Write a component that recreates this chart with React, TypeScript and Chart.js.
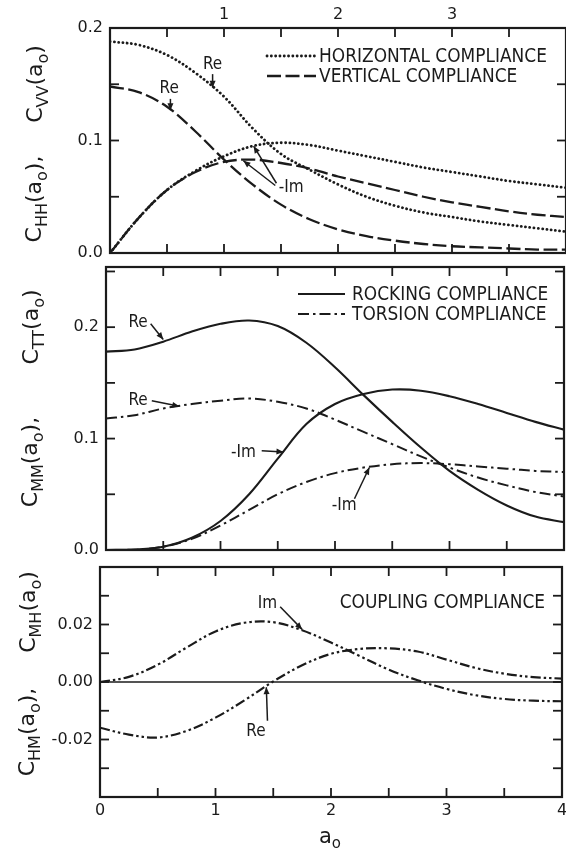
import React, { useEffect, useRef } from "react";
import { Chart, registerables } from "chart.js";

Chart.register(...registerables);

const INK = "#1b1b1b";
const FONT = "'DejaVu Sans', 'Liberation Sans', sans-serif";

// ---------- data ----------
const a0 = [0, 0.25, 0.5, 0.75, 1, 1.25, 1.5, 1.75, 2, 2.25, 2.5, 2.75, 3, 3.25, 3.5, 3.75, 4];

// top panel: horizontal (dotted) & vertical (dashed) compliance
const horizRe = [0.188, 0.185, 0.176, 0.160, 0.139, 0.111, 0.088, 0.074, 0.061, 0.050, 0.042, 0.036, 0.032, 0.028, 0.025, 0.022, 0.019];
const horizNegIm = [0, 0.031, 0.056, 0.073, 0.086, 0.095, 0.098, 0.096, 0.091, 0.086, 0.081, 0.076, 0.072, 0.068, 0.064, 0.061, 0.058];
const vertRe = [0.148, 0.143, 0.130, 0.108, 0.083, 0.061, 0.043, 0.030, 0.021, 0.015, 0.011, 0.008, 0.006, 0.005, 0.004, 0.003, 0.003];
const vertNegIm = [0, 0.031, 0.056, 0.072, 0.081, 0.083, 0.080, 0.075, 0.068, 0.062, 0.056, 0.050, 0.045, 0.041, 0.037, 0.034, 0.032];

// middle panel: rocking (solid) & torsion (dash-dot) compliance
const rockRe = [0.178, 0.180, 0.187, 0.196, 0.203, 0.206, 0.201, 0.186, 0.164, 0.139, 0.115, 0.092, 0.071, 0.054, 0.040, 0.030, 0.025];
const rockNegIm = [0, 0.0005, 0.003, 0.011, 0.026, 0.050, 0.082, 0.113, 0.131, 0.140, 0.144, 0.143, 0.138, 0.131, 0.123, 0.115, 0.108];
const torsRe = [0.118, 0.121, 0.127, 0.131, 0.134, 0.136, 0.133, 0.127, 0.117, 0.106, 0.095, 0.084, 0.074, 0.065, 0.058, 0.052, 0.048];
const torsNegIm = [0, 0.0003, 0.003, 0.010, 0.022, 0.036, 0.050, 0.061, 0.069, 0.074, 0.077, 0.078, 0.077, 0.075, 0.073, 0.071, 0.070];

// bottom panel: coupling compliance
const coupIm = [0, 0.0018, 0.006, 0.012, 0.0176, 0.0206, 0.0208, 0.0180, 0.0137, 0.0090, 0.0043, 0.0006, -0.0024, -0.0046, -0.0059, -0.0065, -0.0067];
const coupRe = [-0.0159, -0.0183, -0.0193, -0.0170, -0.0124, -0.0064, 0.0002, 0.0058, 0.0098, 0.0115, 0.0117, 0.0106, 0.0078, 0.0049, 0.0029, 0.0017, 0.0012];

// tick labels
const bottomTickLabels = ["0", "1", "2", "3", "4"];
const topTickLabels = ["1", "2", "3"];
const yLabelsTop = [0, 0.1, 0.2];
const yLabelsMid = [0, 0.1, 0.2];
const yLabelsBot = [-0.02, 0, 0.02];

// ---------- styles ----------
type LineStyle = { dash: number[]; width: number; cap: CanvasLineCap };
const DOTTED: LineStyle = { dash: [0.1, 4.2], width: 2.8, cap: "round" };
const DASHED: LineStyle = { dash: [14, 4.5], width: 2.3, cap: "butt" };
const SOLID: LineStyle = { dash: [], width: 2.1, cap: "butt" };
const DASHDOT: LineStyle = { dash: [11, 4, 2.5, 4], width: 2.0, cap: "butt" };
const DASHDOTDOT: LineStyle = { dash: [10, 3, 2.5, 3, 2.5, 3], width: 2.2, cap: "butt" };

type Note = { text: string; tx: number; ty: number; align?: CanvasTextAlign; arrows: number[][] };
type LegendRow = { text: string; style: LineStyle; y: number };
type Panel = {
  top: number;
  height: number;
  padTop: number;
  padBottom: number;
  left: number;
  padRight: number;
  yMin: number;
  yMax: number;
  yTickStep: number;
  yLabelStep: number;
  yLabels: number[];
  yDigits: number;
  series: { values: number[]; style: LineStyle }[];
  topLabels: boolean;
  bottomLabels: boolean;
  xAxisHeight: number;
  titles: { s: string; cx: number; cy: number }[];
  legend: { x0: number; x1: number; tx: number; rows: LegendRow[] } | null;
  caption: { text: string; rx: number; y: number } | null;
  notes: Note[];
  zeroLine: boolean;
  xTitle: boolean;
};

const PANELS: Panel[] = [
  {
    top: 0, height: 262, padTop: 0, padBottom: 9, left: 110, padRight: 0,
    yMin: 0, yMax: 0.2, yTickStep: 0.05, yLabelStep: 0.1, yLabels: yLabelsTop, yDigits: 1,
    series: [
      { values: vertRe, style: DASHED },
      { values: vertNegIm, style: DASHED },
      { values: horizRe, style: DOTTED },
      { values: horizNegIm, style: DOTTED },
    ],
    topLabels: true, bottomLabels: false, xAxisHeight: 0,
    titles: [
      { s: "C_{HH}(a_{o}),", cx: 33, cy: 199 },
      { s: "C_{VV}(a_{o})", cx: 34, cy: 84 },
    ],
    legend: {
      x0: 267, x1: 316, tx: 319,
      rows: [
        { text: "HORIZONTAL COMPLIANCE", style: DOTTED, y: 57 },
        { text: "VERTICAL COMPLIANCE", style: DASHED, y: 77 },
      ],
    },
    caption: null,
    notes: [
      { text: "Re", tx: 0.9, ty: 0.168, arrows: [[0.9, 0.159, 0.9, 0.147]] },
      { text: "Re", tx: 0.52, ty: 0.146, arrows: [[0.53, 0.137, 0.53, 0.127]] },
      { text: "-Im", tx: 1.48, ty: 0.058, align: "left", arrows: [[1.46, 0.062, 1.26, 0.095], [1.45, 0.060, 1.17, 0.082]] },
    ],
    zeroLine: false, xTitle: false,
  },
  {
    top: 262, height: 296, padTop: 5, padBottom: 8, left: 106, padRight: 2,
    yMin: 0, yMax: 0.254, yTickStep: 0.05, yLabelStep: 0.1, yLabels: yLabelsMid, yDigits: 1,
    series: [
      { values: rockRe, style: SOLID },
      { values: rockNegIm, style: SOLID },
      { values: torsRe, style: DASHDOT },
      { values: torsNegIm, style: DASHDOT },
    ],
    topLabels: false, bottomLabels: false, xAxisHeight: 0,
    titles: [
      { s: "C_{MM}(a_{o}),", cx: 29, cy: 200 },
      { s: "C_{TT}(a_{o})", cx: 30, cy: 65 },
    ],
    legend: {
      x0: 298, x1: 345, tx: 352,
      rows: [
        { text: "ROCKING COMPLIANCE", style: SOLID, y: 33 },
        { text: "TORSION COMPLIANCE", style: DASHDOT, y: 53 },
      ],
    },
    caption: null,
    notes: [
      { text: "Re", tx: 0.28, ty: 0.2045, arrows: [[0.39, 0.203, 0.5, 0.189]] },
      { text: "Re", tx: 0.28, ty: 0.1345, arrows: [[0.4, 0.134, 0.64, 0.129]] },
      { text: "-Im", tx: 1.2, ty: 0.088, arrows: [[1.36, 0.089, 1.55, 0.088]] },
      { text: "-Im", tx: 2.08, ty: 0.040, arrows: [[2.17, 0.046, 2.3, 0.074]] },
    ],
    zeroLine: false, xTitle: false,
  },
  {
    top: 558, height: 290, padTop: 9, padBottom: 0, left: 100, padRight: 4,
    yMin: -0.04, yMax: 0.04, yTickStep: 0.01, yLabelStep: 0.02, yLabels: yLabelsBot, yDigits: 2,
    series: [
      { values: coupIm, style: DASHDOTDOT },
      { values: coupRe, style: DASHDOTDOT },
    ],
    topLabels: false, bottomLabels: true, xAxisHeight: 51,
    titles: [
      { s: "C_{HM}(a_{o}),", cx: 26, cy: 174 },
      { s: "C_{MH}(a_{o})", cx: 27, cy: 54 },
    ],
    legend: null,
    caption: { text: "COUPLING COMPLIANCE", rx: 545, y: 45 },
    notes: [
      { text: "Im", tx: 1.45, ty: 0.0274, arrows: [[1.56, 0.0262, 1.75, 0.0183]] },
      { text: "Re", tx: 1.35, ty: -0.0172, arrows: [[1.45, -0.0135, 1.44, -0.0018]] },
    ],
    zeroLine: true, xTitle: true,
  },
];

// ---------- drawing helpers ----------
const TEXT_SCALE = 0.85;

function parseRich(s: string) {
  const out: { t: string; sub: boolean }[] = [];
  const re = /_\{([^}]*)\}/g;
  let last = 0;
  let m: RegExpExecArray | null;
  while ((m = re.exec(s))) {
    if (m.index > last) out.push({ t: s.slice(last, m.index), sub: false });
    out.push({ t: m[1], sub: true });
    last = re.lastIndex;
  }
  if (last < s.length) out.push({ t: s.slice(last), sub: false });
  return out;
}

function drawRich(ctx: CanvasRenderingContext2D, s: string, cx: number, cy: number, size: number, rotate: boolean) {
  const segs = parseRich(s);
  const big = `${size}px ${FONT}`;
  const small = `${Math.round(size * 0.72)}px ${FONT}`;
  let total = 0;
  const widths = segs.map((sg) => {
    ctx.font = sg.sub ? small : big;
    const w = ctx.measureText(sg.t).width;
    total += w;
    return w;
  });
  ctx.save();
  ctx.translate(cx, cy);
  if (rotate) ctx.rotate(-Math.PI / 2);
  ctx.textAlign = "left";
  ctx.textBaseline = "alphabetic";
  let x = -total / 2;
  const base = size * 0.36;
  segs.forEach((sg, i) => {
    ctx.font = sg.sub ? small : big;
    ctx.fillText(sg.t, x, sg.sub ? base + size * 0.26 : base);
    x += widths[i];
  });
  ctx.restore();
}

function drawCondensed(ctx: CanvasRenderingContext2D, text: string, x: number, y: number, size: number, align: CanvasTextAlign) {
  ctx.save();
  ctx.font = `${size}px ${FONT}`;
  const w = ctx.measureText(text).width * TEXT_SCALE;
  let left = x;
  if (align === "center") left = x - w / 2;
  else if (align === "right") left = x - w;
  ctx.translate(left, y);
  ctx.scale(TEXT_SCALE, 1);
  ctx.textAlign = "left";
  ctx.textBaseline = "middle";
  ctx.fillText(text, 0, 0);
  ctx.restore();
}

function seg(ctx: CanvasRenderingContext2D, x0: number, y0: number, x1: number, y1: number) {
  ctx.beginPath();
  ctx.moveTo(x0, y0);
  ctx.lineTo(x1, y1);
  ctx.stroke();
}

function arrow(ctx: CanvasRenderingContext2D, x0: number, y0: number, x1: number, y1: number) {
  ctx.lineWidth = 1.5;
  seg(ctx, x0, y0, x1, y1);
  const ang = Math.atan2(y1 - y0, x1 - x0);
  const L = 7, W = 3;
  ctx.beginPath();
  ctx.moveTo(x1, y1);
  ctx.lineTo(x1 - L * Math.cos(ang) + W * Math.sin(ang), y1 - L * Math.sin(ang) - W * Math.cos(ang));
  ctx.lineTo(x1 - L * Math.cos(ang) - W * Math.sin(ang), y1 - L * Math.sin(ang) + W * Math.cos(ang));
  ctx.closePath();
  ctx.fill();
}

function decorPlugin(p: Panel, idx: number) {
  return {
    id: "decor" + idx,
    afterDatasetsDraw(chart: any) {
      const ctx: CanvasRenderingContext2D = chart.ctx;
      const { left, right, top, bottom } = chart.chartArea;
      const xs = chart.scales.x;
      const ys = chart.scales.y;
      ctx.save();
      ctx.strokeStyle = INK;
      ctx.fillStyle = INK;
      ctx.setLineDash([]);
      ctx.lineCap = "butt";

      if (p.zeroLine) {
        ctx.lineWidth = 1.7;
        const y0 = ys.getPixelForValue(0);
        seg(ctx, left, y0, right, y0);
      }

      ctx.lineWidth = 2.2;
      ctx.strokeRect(left, top, right - left, bottom - top);

      const TL = 9;
      ctx.lineWidth = 1.8;
      for (let k = 1; k < 8; k++) {
        const px = xs.getPixelForValue(k * 0.5);
        seg(ctx, px, top, px, top + TL);
        seg(ctx, px, bottom, px, bottom - TL);
      }
      const kMin = Math.ceil(p.yMin / p.yTickStep - 1e-6);
      const kMax = Math.floor(p.yMax / p.yTickStep + 1e-6);
      for (let k = kMin; k <= kMax; k++) {
        const py = ys.getPixelForValue(k * p.yTickStep);
        if (py < top + 3 || py > bottom - 3) continue;
        seg(ctx, left, py, left + TL, py);
        seg(ctx, right, py, right - TL, py);
      }

      if (p.legend) {
        const lg = p.legend;
        lg.rows.forEach((r) => {
          ctx.save();
          ctx.setLineDash(r.style.dash);
          ctx.lineWidth = r.style.width;
          ctx.lineCap = r.style.cap;
          seg(ctx, lg.x0, r.y - 1, lg.x1, r.y - 1);
          ctx.restore();
          drawCondensed(ctx, r.text, lg.tx, r.y, 20, "left");
        });
      }
      if (p.caption) drawCondensed(ctx, p.caption.text, p.caption.rx, p.caption.y, 20, "right");

      p.notes.forEach((n) => {
        drawCondensed(ctx, n.text, xs.getPixelForValue(n.tx), ys.getPixelForValue(n.ty), 18, n.align || "center");
        n.arrows.forEach((a) => {
          arrow(ctx, xs.getPixelForValue(a[0]), ys.getPixelForValue(a[1]), xs.getPixelForValue(a[2]), ys.getPixelForValue(a[3]));
        });
      });

      p.titles.forEach((t) => drawRich(ctx, t.s, t.cx, t.cy, 22, true));
      if (p.xTitle) drawRich(ctx, "a_{o}", 330, 277, 21, false);
      ctx.restore();
    },
  };
}

function buildConfig(p: Panel, idx: number): any {
  const datasets = p.series.map((s) => ({
    data: a0.map((x, i) => ({ x, y: s.values[i] })),
    borderColor: INK,
    borderWidth: s.style.width,
    borderDash: s.style.dash,
    borderCapStyle: s.style.cap,
    pointRadius: 0,
    fill: false,
    tension: 0.35,
  }));
  const tickFont = { family: FONT, size: 16 };
  const scales: any = {
    x: {
      type: "linear",
      min: 0,
      max: 4,
      position: "bottom",
      display: p.bottomLabels,
      grid: { display: false, drawTicks: false },
      border: { display: false },
      ticks: {
        stepSize: 1,
        padding: 4,
        color: INK,
        font: tickFont,
        maxRotation: 0,
        autoSkip: false,
        callback: (v: number) => {
          const i = Math.round(v);
          return Math.abs(v - i) < 1e-6 ? bottomTickLabels[i] ?? "" : "";
        },
      },
      afterFit: (s: any) => {
        s.height = p.xAxisHeight;
        s.paddingLeft = 0;
        s.paddingRight = 0;
      },
    },
    y: {
      type: "linear",
      min: p.yMin,
      max: p.yMax,
      position: "left",
      grid: { display: false, drawTicks: false },
      border: { display: false },
      ticks: {
        stepSize: p.yLabelStep,
        padding: 7,
        color: INK,
        font: tickFont,
        autoSkip: false,
        callback: (v: number) => {
          const hit = p.yLabels.find((l) => Math.abs(l - v) < 1e-7);
          return hit === undefined ? "" : Math.abs(hit) < 1e-12 ? (0).toFixed(p.yDigits) : hit.toFixed(p.yDigits);
        },
      },
      afterFit: (s: any) => {
        s.width = p.left;
        s.paddingTop = 0;
        s.paddingBottom = 0;
      },
    },
  };
  if (p.topLabels) {
    scales.xTop = {
      type: "linear",
      axis: "x",
      min: 0,
      max: 4,
      position: "top",
      grid: { display: false, drawTicks: false },
      border: { display: false },
      ticks: {
        stepSize: 1,
        padding: 4,
        color: INK,
        font: tickFont,
        maxRotation: 0,
        autoSkip: false,
        callback: (v: number) => (topTickLabels.includes(String(v)) ? String(v) : ""),
      },
      afterFit: (s: any) => {
        s.height = 28;
        s.paddingLeft = 0;
        s.paddingRight = 0;
      },
    };
  }
  return {
    type: "line",
    data: { datasets },
    options: {
      responsive: false,
      animation: false,
      events: [],
      layout: { padding: { top: p.padTop, bottom: p.padBottom, left: 0, right: p.padRight } },
      plugins: { legend: { display: false }, tooltip: { enabled: false }, title: { display: false } },
      scales,
    },
    plugins: [decorPlugin(p, idx)],
  };
}

export default function App() {
  const refs = useRef<(HTMLCanvasElement | null)[]>([]);
  useEffect(() => {
    const charts = PANELS.map((p, i) => new Chart(refs.current[i] as HTMLCanvasElement, buildConfig(p, i)));
    return () => charts.forEach((c) => c.destroy());
  }, []);
  return (
    <div style={{ position: "absolute", left: 0, top: 0, width: 566, height: 848, background: "#ffffff", overflow: "hidden" }}>
      {PANELS.map((p, i) => (
        <canvas
          key={i}
          ref={(el) => {
            refs.current[i] = el;
          }}
          width={566}
          height={p.height}
          style={{ position: "absolute", left: 0, top: p.top, width: 566, height: p.height, display: "block" }}
        />
      ))}
    </div>
  );
}
